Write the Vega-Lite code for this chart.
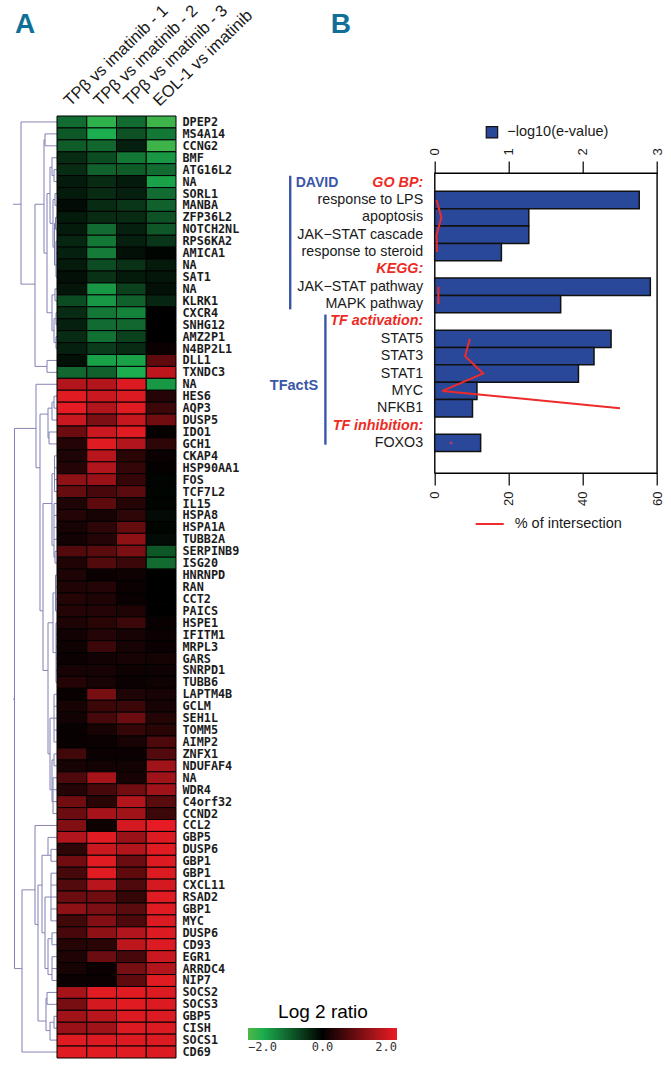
{"$schema":"https://vega.github.io/schema/vega-lite/v6.json","padding":{"left":12,"top":2,"right":0,"bottom":0},"background":"#ffffff","bounds":"flush","spacing":422.7,"config":{"view":{"stroke":null},"font":"Liberation Sans"},
"datasets":{
"h":[{"x":44,"x2":36,"y":6.9},{"x":36,"x2":0,"y":0},{"x":36,"x2":22,"y":13.6},{"x":22,"x2":10,"y":20.5},{"x":10,"x2":0,"y":20},{"x":10,"x2":0,"y":21},{"x":22,"x2":13,"y":6.9},{"x":13,"x2":12,"y":1.5},{"x":12,"x2":0,"y":1},{"x":12,"x2":0,"y":2},{"x":13,"x2":10,"y":11},{"x":10,"x2":7,"y":6},{"x":7,"x2":5,"y":3.8},{"x":5,"x2":0,"y":3},{"x":5,"x2":3,"y":4.5},{"x":3,"x2":0,"y":4},{"x":3,"x2":0,"y":5},{"x":7,"x2":4,"y":8.5},{"x":4,"x2":2,"y":6.5},{"x":2,"x2":0,"y":6},{"x":2,"x2":0,"y":7},{"x":4,"x2":2.5,"y":10.5},{"x":2.5,"x2":1.5,"y":8.5},{"x":1.5,"x2":0,"y":8},{"x":1.5,"x2":0,"y":9},{"x":2.5,"x2":1,"y":12},{"x":1,"x2":0,"y":10},{"x":1,"x2":0,"y":11},{"x":1,"x2":0,"y":12},{"x":1,"x2":0,"y":13},{"x":10,"x2":5,"y":16},{"x":5,"x2":2,"y":14.5},{"x":2,"x2":0,"y":14},{"x":2,"x2":0,"y":15},{"x":5,"x2":3,"y":17.5},{"x":3,"x2":1,"y":16.5},{"x":1,"x2":0,"y":16},{"x":1,"x2":0,"y":17},{"x":3,"x2":1,"y":18.5},{"x":1,"x2":0,"y":18},{"x":1,"x2":0,"y":19},
{"x":44,"x2":42.5,"y":48.4},{"x":42.5,"x2":21,"y":25.7},{"x":21,"x2":0,"y":22},{"x":21,"x2":17,"y":29},{"x":17,"x2":9,"y":24.5},{"x":9,"x2":5,"y":24},{"x":5,"x2":3,"y":23.5},{"x":3,"x2":0,"y":23},{"x":3,"x2":0,"y":24},{"x":5,"x2":0,"y":25},{"x":9,"x2":8,"y":26.5},{"x":8,"x2":0,"y":26},{"x":8,"x2":0,"y":27},{"x":17,"x2":14,"y":41},{"x":14,"x2":5,"y":32},{"x":5,"x2":2.5,"y":29.5},{"x":2.5,"x2":0,"y":28},{"x":2.5,"x2":0,"y":29},{"x":2.5,"x2":0,"y":30},{"x":2.5,"x2":0,"y":31},{"x":5,"x2":3,"y":35.5},{"x":3,"x2":0,"y":32},{"x":3,"x2":0,"y":33},{"x":3,"x2":0,"y":34},{"x":3,"x2":0,"y":35},{"x":3,"x2":2,"y":36.5},{"x":2,"x2":0,"y":36},{"x":2,"x2":0,"y":37},{"x":14,"x2":9,"y":46},{"x":9,"x2":4,"y":42},{"x":4,"x2":1.5,"y":39.5},{"x":1.5,"x2":0,"y":38},{"x":1.5,"x2":0,"y":39},{"x":1.5,"x2":0,"y":40},{"x":1.5,"x2":0,"y":41},{"x":4,"x2":1,"y":44.5},{"x":1,"x2":0,"y":42},{"x":1,"x2":0,"y":43},{"x":1,"x2":0,"y":44},{"x":1,"x2":0,"y":45},{"x":1,"x2":0,"y":46},{"x":1,"x2":0,"y":47},{"x":9,"x2":7,"y":53},{"x":7,"x2":3,"y":50},{"x":3,"x2":0,"y":48},{"x":3,"x2":0,"y":49},{"x":3,"x2":0,"y":50},{"x":3,"x2":0,"y":51},{"x":3,"x2":0,"y":52},{"x":7,"x2":5,"y":56},{"x":5,"x2":3,"y":53.5},{"x":3,"x2":0,"y":53},{"x":3,"x2":0,"y":54},{"x":5,"x2":4,"y":57},{"x":4,"x2":0,"y":55},{"x":4,"x2":0,"y":56},{"x":4,"x2":0,"y":57},{"x":4,"x2":0,"y":58},
{"x":42.5,"x2":35,"y":71},{"x":35,"x2":0,"y":78},{"x":35,"x2":22,"y":64.4},{"x":22,"x2":0,"y":59},{"x":22,"x2":19,"y":67.3},{"x":19,"x2":15,"y":64},{"x":15,"x2":9,"y":61.5},{"x":9,"x2":0,"y":60},{"x":9,"x2":6,"y":61.5},{"x":6,"x2":0,"y":61},{"x":6,"x2":0,"y":62},{"x":15,"x2":12,"y":68},{"x":12,"x2":6,"y":65},{"x":6,"x2":0,"y":63},{"x":6,"x2":0,"y":64},{"x":6,"x2":0,"y":65},{"x":6,"x2":0,"y":66},{"x":6,"x2":0,"y":67},{"x":12,"x2":9,"y":71},{"x":9,"x2":5,"y":68.5},{"x":5,"x2":0,"y":68},{"x":5,"x2":0,"y":69},{"x":9,"x2":5,"y":71.5},{"x":5,"x2":0,"y":70},{"x":5,"x2":0,"y":71},{"x":5,"x2":0,"y":72},{"x":19,"x2":11,"y":75.4},{"x":11,"x2":10,"y":73.5},{"x":10,"x2":0,"y":73},{"x":10,"x2":0,"y":74},{"x":11,"x2":7,"y":76.2},{"x":7,"x2":3,"y":75.5},{"x":3,"x2":0,"y":75},{"x":3,"x2":0,"y":76},{"x":7,"x2":0,"y":77}],
"v":[{"x":36,"y":0,"y2":13.6},{"x":22,"y":6.9,"y2":20.5},{"x":10,"y":20,"y2":21},{"x":13,"y":1.5,"y2":11},{"x":12,"y":1,"y2":2},{"x":10,"y":6,"y2":16},{"x":7,"y":3.8,"y2":8.5},{"x":5,"y":3,"y2":4.5},{"x":3,"y":4,"y2":5},{"x":4,"y":6.5,"y2":10.5},{"x":2,"y":6,"y2":7},{"x":2.5,"y":8.5,"y2":12},{"x":1.5,"y":8,"y2":9},{"x":1,"y":10,"y2":13},{"x":5,"y":14.5,"y2":17.5},{"x":2,"y":14,"y2":15},{"x":3,"y":16.5,"y2":18.5},{"x":1,"y":16,"y2":17},{"x":1,"y":18,"y2":19},
{"x":42.5,"y":25.7,"y2":71},{"x":21,"y":22,"y2":29},{"x":17,"y":24.5,"y2":41},{"x":9,"y":24,"y2":26.5},{"x":5,"y":23.5,"y2":25},{"x":3,"y":23,"y2":24},{"x":8,"y":26,"y2":27},{"x":14,"y":32,"y2":46},{"x":5,"y":29.5,"y2":35.5},{"x":2.5,"y":28,"y2":31},{"x":3,"y":32,"y2":36.5},{"x":2,"y":36,"y2":37},{"x":9,"y":42,"y2":53},{"x":4,"y":39.5,"y2":44.5},{"x":1.5,"y":38,"y2":41},{"x":1,"y":42,"y2":47},{"x":7,"y":50,"y2":56},{"x":3,"y":48,"y2":52},{"x":5,"y":53.5,"y2":57},{"x":3,"y":53,"y2":54},{"x":4,"y":55,"y2":58},
{"x":35,"y":64.4,"y2":78},{"x":22,"y":59,"y2":67.3},{"x":19,"y":64,"y2":75.4},{"x":15,"y":61.5,"y2":68},{"x":9,"y":60,"y2":61.5},{"x":6,"y":61,"y2":62},{"x":12,"y":65,"y2":71},{"x":6,"y":63,"y2":67},{"x":9,"y":68.5,"y2":71.5},{"x":5,"y":68,"y2":69},{"x":5,"y":70,"y2":72},{"x":11,"y":73.5,"y2":76.2},{"x":10,"y":73,"y2":74},{"x":7,"y":75.5,"y2":77},{"x":3,"y":75,"y2":76}]
},
"hconcat":[
{"bounds":"flush","spacing":0,"hconcat":[
{"width":45,"height":942,"title":{"text":"A","anchor":"start","dx":3,"offset":77,"fontSize":28,"fontWeight":"bold","font":"Liberation Sans","color":"#0f6f98"},
"layer":[
{"data":{"name":"h"},"mark":{"type":"rule","stroke":"#8a86b4","strokeWidth":1},"encoding":{"x":{"field":"x","type":"quantitative","scale":{"domain":[45,0]},"axis":null},"x2":{"field":"x2"},"y":{"field":"y","type":"quantitative","scale":{"domain":[-0.5,78.5],"reverse":true},"axis":null}}},
{"data":{"name":"v"},"mark":{"type":"rule","stroke":"#7f7fb5","strokeWidth":1},"encoding":{"x":{"field":"x","type":"quantitative","scale":{"domain":[45,0]},"axis":null},"y":{"field":"y","type":"quantitative","scale":{"domain":[-0.5,78.5],"reverse":true},"axis":null},"y2":{"field":"y2"}}}
]},
{"width":119,"height":942,
"data":{"values":[
{"g":"0|DPEP2","s":"T1","v":-1},{"g":"0|DPEP2","s":"T2","v":-1.75},{"g":"0|DPEP2","s":"T3","v":-1},{"g":"0|DPEP2","s":"E","v":-1.85},
{"g":"1|MS4A14","s":"T1","v":-0.8},{"g":"1|MS4A14","s":"T2","v":-1.6},{"g":"1|MS4A14","s":"T3","v":-0.75},{"g":"1|MS4A14","s":"E","v":-1.1},
{"g":"2|CCNG2","s":"T1","v":-0.85},{"g":"2|CCNG2","s":"T2","v":-0.95},{"g":"2|CCNG2","s":"T3","v":-0.3},{"g":"2|CCNG2","s":"E","v":-1.85},
{"g":"3|BMF","s":"T1","v":-0.4},{"g":"3|BMF","s":"T2","v":-0.7},{"g":"3|BMF","s":"T3","v":-1.1},{"g":"3|BMF","s":"E","v":-1.4},
{"g":"4|ATG16L2","s":"T1","v":-0.4},{"g":"4|ATG16L2","s":"T2","v":-0.9},{"g":"4|ATG16L2","s":"T3","v":-0.85},{"g":"4|ATG16L2","s":"E","v":-1},
{"g":"5|NA","s":"T1","v":-0.25},{"g":"5|NA","s":"T2","v":-0.4},{"g":"5|NA","s":"T3","v":-0.25},{"g":"5|NA","s":"E","v":-1.5},
{"g":"6|SORL1","s":"T1","v":-0.25},{"g":"6|SORL1","s":"T2","v":-0.4},{"g":"6|SORL1","s":"T3","v":-0.3},{"g":"6|SORL1","s":"E","v":-1},
{"g":"7|MANBA","s":"T1","v":-0.1},{"g":"7|MANBA","s":"T2","v":-0.4},{"g":"7|MANBA","s":"T3","v":-0.5},{"g":"7|MANBA","s":"E","v":-0.9},
{"g":"8|ZFP36L2","s":"T1","v":-0.25},{"g":"8|ZFP36L2","s":"T2","v":-0.4},{"g":"8|ZFP36L2","s":"T3","v":-0.4},{"g":"8|ZFP36L2","s":"E","v":-0.75},
{"g":"9|NOTCH2NL","s":"T1","v":-0.25},{"g":"9|NOTCH2NL","s":"T2","v":-1},{"g":"9|NOTCH2NL","s":"T3","v":-0.3},{"g":"9|NOTCH2NL","s":"E","v":-0.8},
{"g":"10|RPS6KA2","s":"T1","v":-0.35},{"g":"10|RPS6KA2","s":"T2","v":-1.1},{"g":"10|RPS6KA2","s":"T3","v":-0.3},{"g":"10|RPS6KA2","s":"E","v":-0.5},
{"g":"11|AMICA1","s":"T1","v":-0.3},{"g":"11|AMICA1","s":"T2","v":-1.15},{"g":"11|AMICA1","s":"T3","v":-0.15},{"g":"11|AMICA1","s":"E","v":-0.05},
{"g":"12|NA","s":"T1","v":-0.25},{"g":"12|NA","s":"T2","v":-0.7},{"g":"12|NA","s":"T3","v":-0.45},{"g":"12|NA","s":"E","v":-0.25},
{"g":"13|SAT1","s":"T1","v":-0.15},{"g":"13|SAT1","s":"T2","v":-0.45},{"g":"13|SAT1","s":"T3","v":-0.25},{"g":"13|SAT1","s":"E","v":-0.2},
{"g":"14|NA","s":"T1","v":-0.2},{"g":"14|NA","s":"T2","v":-1.4},{"g":"14|NA","s":"T3","v":-0.6},{"g":"14|NA","s":"E","v":-0.15},
{"g":"15|KLRK1","s":"T1","v":-0.7},{"g":"15|KLRK1","s":"T2","v":-1.4},{"g":"15|KLRK1","s":"T3","v":-0.9},{"g":"15|KLRK1","s":"E","v":-0.35},
{"g":"16|CXCR4","s":"T1","v":-0.4},{"g":"16|CXCR4","s":"T2","v":-1.1},{"g":"16|CXCR4","s":"T3","v":-1.2},{"g":"16|CXCR4","s":"E","v":0},
{"g":"17|SNHG12","s":"T1","v":-0.3},{"g":"17|SNHG12","s":"T2","v":-1},{"g":"17|SNHG12","s":"T3","v":-0.95},{"g":"17|SNHG12","s":"E","v":0},
{"g":"18|AMZ2P1","s":"T1","v":-0.4},{"g":"18|AMZ2P1","s":"T2","v":-1.05},{"g":"18|AMZ2P1","s":"T3","v":-0.6},{"g":"18|AMZ2P1","s":"E","v":0},
{"g":"19|N4BP2L1","s":"T1","v":-0.3},{"g":"19|N4BP2L1","s":"T2","v":-0.55},{"g":"19|N4BP2L1","s":"T3","v":-0.4},{"g":"19|N4BP2L1","s":"E","v":0.1},
{"g":"20|DLL1","s":"T1","v":-0.15},{"g":"20|DLL1","s":"T2","v":-1.5},{"g":"20|DLL1","s":"T3","v":-1.5},{"g":"20|DLL1","s":"E","v":0.8},
{"g":"21|TXNDC3","s":"T1","v":-0.95},{"g":"21|TXNDC3","s":"T2","v":-0.9},{"g":"21|TXNDC3","s":"T3","v":-1.6},{"g":"21|TXNDC3","s":"E","v":1.6},
{"g":"22|NA","s":"T1","v":1.5},{"g":"22|NA","s":"T2","v":1.5},{"g":"22|NA","s":"T3","v":1.85},{"g":"22|NA","s":"E","v":-1.4},
{"g":"23|HES6","s":"T1","v":1.9},{"g":"23|HES6","s":"T2","v":1.7},{"g":"23|HES6","s":"T3","v":1.85},{"g":"23|HES6","s":"E","v":0.3},
{"g":"24|AQP3","s":"T1","v":1.95},{"g":"24|AQP3","s":"T2","v":1.5},{"g":"24|AQP3","s":"T3","v":1.9},{"g":"24|AQP3","s":"E","v":0.5},
{"g":"25|DUSP5","s":"T1","v":1.7},{"g":"25|DUSP5","s":"T2","v":1.05},{"g":"25|DUSP5","s":"T3","v":1.65},{"g":"25|DUSP5","s":"E","v":0.95},
{"g":"26|IDO1","s":"T1","v":0.9},{"g":"26|IDO1","s":"T2","v":1.7},{"g":"26|IDO1","s":"T3","v":1.9},{"g":"26|IDO1","s":"E","v":0.05},
{"g":"27|GCH1","s":"T1","v":0.3},{"g":"27|GCH1","s":"T2","v":1.9},{"g":"27|GCH1","s":"T3","v":1.5},{"g":"27|GCH1","s":"E","v":0.4},
{"g":"28|CKAP4","s":"T1","v":0.25},{"g":"28|CKAP4","s":"T2","v":1.55},{"g":"28|CKAP4","s":"T3","v":0.35},{"g":"28|CKAP4","s":"E","v":0.1},
{"g":"29|HSP90AA1","s":"T1","v":0.3},{"g":"29|HSP90AA1","s":"T2","v":1.5},{"g":"29|HSP90AA1","s":"T3","v":0.45},{"g":"29|HSP90AA1","s":"E","v":0.05},
{"g":"30|FOS","s":"T1","v":1.2},{"g":"30|FOS","s":"T2","v":1.3},{"g":"30|FOS","s":"T3","v":0.45},{"g":"30|FOS","s":"E","v":-0.05},
{"g":"31|TCF7L2","s":"T1","v":0.85},{"g":"31|TCF7L2","s":"T2","v":0.6},{"g":"31|TCF7L2","s":"T3","v":0.75},{"g":"31|TCF7L2","s":"E","v":-0.05},
{"g":"32|IL15","s":"T1","v":0.25},{"g":"32|IL15","s":"T2","v":0.8},{"g":"32|IL15","s":"T3","v":0.3},{"g":"32|IL15","s":"E","v":-0.05},
{"g":"33|HSPA8","s":"T1","v":0.3},{"g":"33|HSPA8","s":"T2","v":0.2},{"g":"33|HSPA8","s":"T3","v":0.4},{"g":"33|HSPA8","s":"E","v":-0.1},
{"g":"34|HSPA1A","s":"T1","v":0.2},{"g":"34|HSPA1A","s":"T2","v":0.4},{"g":"34|HSPA1A","s":"T3","v":0.85},{"g":"34|HSPA1A","s":"E","v":-0.05},
{"g":"35|TUBB2A","s":"T1","v":0.15},{"g":"35|TUBB2A","s":"T2","v":0.3},{"g":"35|TUBB2A","s":"T3","v":1.2},{"g":"35|TUBB2A","s":"E","v":-0.1},
{"g":"36|SERPINB9","s":"T1","v":0.7},{"g":"36|SERPINB9","s":"T2","v":0.75},{"g":"36|SERPINB9","s":"T3","v":1.05},{"g":"36|SERPINB9","s":"E","v":-0.8},
{"g":"37|ISG20","s":"T1","v":0.25},{"g":"37|ISG20","s":"T2","v":0.7},{"g":"37|ISG20","s":"T3","v":0.5},{"g":"37|ISG20","s":"E","v":-1},
{"g":"38|HNRNPD","s":"T1","v":0.25},{"g":"38|HNRNPD","s":"T2","v":0.1},{"g":"38|HNRNPD","s":"T3","v":0.12},{"g":"38|HNRNPD","s":"E","v":0},
{"g":"39|RAN","s":"T1","v":0.25},{"g":"39|RAN","s":"T2","v":0.3},{"g":"39|RAN","s":"T3","v":0.1},{"g":"39|RAN","s":"E","v":0},
{"g":"40|CCT2","s":"T1","v":0.3},{"g":"40|CCT2","s":"T2","v":0.25},{"g":"40|CCT2","s":"T3","v":0.08},{"g":"40|CCT2","s":"E","v":0},
{"g":"41|PAICS","s":"T1","v":0.3},{"g":"41|PAICS","s":"T2","v":0.3},{"g":"41|PAICS","s":"T3","v":0.25},{"g":"41|PAICS","s":"E","v":0},
{"g":"42|HSPE1","s":"T1","v":0.25},{"g":"42|HSPE1","s":"T2","v":0.35},{"g":"42|HSPE1","s":"T3","v":0.5},{"g":"42|HSPE1","s":"E","v":0.08},
{"g":"43|IFITM1","s":"T1","v":0.15},{"g":"43|IFITM1","s":"T2","v":0.3},{"g":"43|IFITM1","s":"T3","v":0.2},{"g":"43|IFITM1","s":"E","v":0.1},
{"g":"44|MRPL3","s":"T1","v":0.12},{"g":"44|MRPL3","s":"T2","v":0.5},{"g":"44|MRPL3","s":"T3","v":0.2},{"g":"44|MRPL3","s":"E","v":0.1},
{"g":"45|GARS","s":"T1","v":0.1},{"g":"45|GARS","s":"T2","v":0.15},{"g":"45|GARS","s":"T3","v":0.2},{"g":"45|GARS","s":"E","v":0.18},
{"g":"46|SNRPD1","s":"T1","v":0.2},{"g":"46|SNRPD1","s":"T2","v":0.2},{"g":"46|SNRPD1","s":"T3","v":0.12},{"g":"46|SNRPD1","s":"E","v":0.12},
{"g":"47|TUBB6","s":"T1","v":0.3},{"g":"47|TUBB6","s":"T2","v":0.2},{"g":"47|TUBB6","s":"T3","v":0.1},{"g":"47|TUBB6","s":"E","v":0.12},
{"g":"48|LAPTM4B","s":"T1","v":0.08},{"g":"48|LAPTM4B","s":"T2","v":1},{"g":"48|LAPTM4B","s":"T3","v":0.25},{"g":"48|LAPTM4B","s":"E","v":0.2},
{"g":"49|GCLM","s":"T1","v":0.2},{"g":"49|GCLM","s":"T2","v":0.5},{"g":"49|GCLM","s":"T3","v":0.5},{"g":"49|GCLM","s":"E","v":0.2},
{"g":"50|SEH1L","s":"T1","v":0.15},{"g":"50|SEH1L","s":"T2","v":0.6},{"g":"50|SEH1L","s":"T3","v":0.9},{"g":"50|SEH1L","s":"E","v":0.3},
{"g":"51|TOMM5","s":"T1","v":0.08},{"g":"51|TOMM5","s":"T2","v":0.2},{"g":"51|TOMM5","s":"T3","v":0.45},{"g":"51|TOMM5","s":"E","v":0.35},
{"g":"52|AIMP2","s":"T1","v":0.08},{"g":"52|AIMP2","s":"T2","v":0.1},{"g":"52|AIMP2","s":"T3","v":0.2},{"g":"52|AIMP2","s":"E","v":0.65},
{"g":"53|ZNFX1","s":"T1","v":0.55},{"g":"53|ZNFX1","s":"T2","v":0.1},{"g":"53|ZNFX1","s":"T3","v":0.1},{"g":"53|ZNFX1","s":"E","v":0.7},
{"g":"54|NDUFAF4","s":"T1","v":0.2},{"g":"54|NDUFAF4","s":"T2","v":0.15},{"g":"54|NDUFAF4","s":"T3","v":0.15},{"g":"54|NDUFAF4","s":"E","v":1.35},
{"g":"55|NA","s":"T1","v":0.65},{"g":"55|NA","s":"T2","v":1.4},{"g":"55|NA","s":"T3","v":0.2},{"g":"55|NA","s":"E","v":1.35},
{"g":"56|WDR4","s":"T1","v":0.3},{"g":"56|WDR4","s":"T2","v":0.6},{"g":"56|WDR4","s":"T3","v":0.95},{"g":"56|WDR4","s":"E","v":1.35},
{"g":"57|C4orf32","s":"T1","v":0.95},{"g":"57|C4orf32","s":"T2","v":0.35},{"g":"57|C4orf32","s":"T3","v":1.5},{"g":"57|C4orf32","s":"E","v":0.75},
{"g":"58|CCND2","s":"T1","v":0.9},{"g":"58|CCND2","s":"T2","v":1.4},{"g":"58|CCND2","s":"T3","v":1.35},{"g":"58|CCND2","s":"E","v":0.5},
{"g":"59|CCL2","s":"T1","v":1.1},{"g":"59|CCL2","s":"T2","v":0.12},{"g":"59|CCL2","s":"T3","v":1.8},{"g":"59|CCL2","s":"E","v":1.95},
{"g":"60|GBP5","s":"T1","v":1.5},{"g":"60|GBP5","s":"T2","v":1.9},{"g":"60|GBP5","s":"T3","v":1.3},{"g":"60|GBP5","s":"E","v":1.85},
{"g":"61|DUSP6","s":"T1","v":0.4},{"g":"61|DUSP6","s":"T2","v":1.7},{"g":"61|DUSP6","s":"T3","v":1.5},{"g":"61|DUSP6","s":"E","v":1.9},
{"g":"62|GBP1","s":"T1","v":0.95},{"g":"62|GBP1","s":"T2","v":1.9},{"g":"62|GBP1","s":"T3","v":0.9},{"g":"62|GBP1","s":"E","v":1.85},
{"g":"63|GBP1","s":"T1","v":0.6},{"g":"63|GBP1","s":"T2","v":1.9},{"g":"63|GBP1","s":"T3","v":0.8},{"g":"63|GBP1","s":"E","v":1.85},
{"g":"64|CXCL11","s":"T1","v":0.7},{"g":"64|CXCL11","s":"T2","v":1.55},{"g":"64|CXCL11","s":"T3","v":0.65},{"g":"64|CXCL11","s":"E","v":1.8},
{"g":"65|RSAD2","s":"T1","v":0.9},{"g":"65|RSAD2","s":"T2","v":0.95},{"g":"65|RSAD2","s":"T3","v":0.45},{"g":"65|RSAD2","s":"E","v":1.9},
{"g":"66|GBP1","s":"T1","v":1.2},{"g":"66|GBP1","s":"T2","v":1.05},{"g":"66|GBP1","s":"T3","v":0.75},{"g":"66|GBP1","s":"E","v":1.9},
{"g":"67|MYC","s":"T1","v":0.55},{"g":"67|MYC","s":"T2","v":1.1},{"g":"67|MYC","s":"T3","v":0.65},{"g":"67|MYC","s":"E","v":1.85},
{"g":"68|DUSP6","s":"T1","v":0.6},{"g":"68|DUSP6","s":"T2","v":1.2},{"g":"68|DUSP6","s":"T3","v":1.5},{"g":"68|DUSP6","s":"E","v":1.85},
{"g":"69|CD93","s":"T1","v":0.3},{"g":"69|CD93","s":"T2","v":0.35},{"g":"69|CD93","s":"T3","v":1.6},{"g":"69|CD93","s":"E","v":1.85},
{"g":"70|EGR1","s":"T1","v":0.25},{"g":"70|EGR1","s":"T2","v":0.9},{"g":"70|EGR1","s":"T3","v":0.6},{"g":"70|EGR1","s":"E","v":1.7},
{"g":"71|ARRDC4","s":"T1","v":0.2},{"g":"71|ARRDC4","s":"T2","v":0.1},{"g":"71|ARRDC4","s":"T3","v":1},{"g":"71|ARRDC4","s":"E","v":1.5},
{"g":"72|NIP7","s":"T1","v":0.1},{"g":"72|NIP7","s":"T2","v":0.1},{"g":"72|NIP7","s":"T3","v":0.8},{"g":"72|NIP7","s":"E","v":1.9},
{"g":"73|SOCS2","s":"T1","v":1.4},{"g":"73|SOCS2","s":"T2","v":1.9},{"g":"73|SOCS2","s":"T3","v":1.9},{"g":"73|SOCS2","s":"E","v":1.85},
{"g":"74|SOCS3","s":"T1","v":1},{"g":"74|SOCS3","s":"T2","v":1.8},{"g":"74|SOCS3","s":"T3","v":1.9},{"g":"74|SOCS3","s":"E","v":1.85},
{"g":"75|GBP5","s":"T1","v":1.35},{"g":"75|GBP5","s":"T2","v":1.55},{"g":"75|GBP5","s":"T3","v":1.85},{"g":"75|GBP5","s":"E","v":1.85},
{"g":"76|CISH","s":"T1","v":1.3},{"g":"76|CISH","s":"T2","v":1.35},{"g":"76|CISH","s":"T3","v":1.85},{"g":"76|CISH","s":"E","v":1.85},
{"g":"77|SOCS1","s":"T1","v":1.9},{"g":"77|SOCS1","s":"T2","v":1.85},{"g":"77|SOCS1","s":"T3","v":1.85},{"g":"77|SOCS1","s":"E","v":1.85},
{"g":"78|CD69","s":"T1","v":1.9},{"g":"78|CD69","s":"T2","v":1.9},{"g":"78|CD69","s":"T3","v":1.9},{"g":"78|CD69","s":"E","v":1.85}
]},
"mark":{"type":"rect","stroke":"#000000","strokeWidth":1},
"encoding":{
"x":{"field":"s","type":"nominal","sort":null,"scale":{"paddingInner":0,"paddingOuter":0},"axis":{"orient":"top","title":null,"domain":false,"ticks":false,"labelAngle":-44,"labelAlign":"left","labelBaseline":"middle","labelFontSize":16.5,"labelFont":"Liberation Sans","labelColor":"#1a1a1a","labelPadding":13,"labelOffset":-5,"labelLimit":200,"labelExpr":"{'T1':'TPβ vs imatinib - 1','T2':'TPβ vs imatinib - 2','T3':'TPβ vs imatinib - 3','E':'EOL-1 vs imatinib'}[datum.value]"}},
"y":{"field":"g","type":"nominal","sort":null,"scale":{"paddingInner":0,"paddingOuter":0},"axis":{"orient":"right","title":null,"domain":false,"ticks":false,"labelPadding":6,"labelFont":"DejaVu Sans Mono","labelFontSize":11.8,"labelFontWeight":"bold","labelColor":"#1c1c1c","labelOverlap":false,"labelExpr":"split(datum.value,'|')[1]"}},
"color":{"field":"v","type":"quantitative","scale":{"domain":[-2,-1.6,0,2],"range":["#50b748","#1cad4e","#000000","#ed1c24"],"interpolate":"rgb"},
"legend":{"orient":"none","legendX":236,"legendY":887,"direction":"horizontal","title":"Log 2 ratio","titleFont":"Liberation Sans","titleFontSize":19,"titleFontWeight":"normal","titleColor":"#000000","titleAnchor":"middle","titlePadding":6,"gradientLength":149,"gradientThickness":12,"values":[-2,0,2],"format":".1f","labelFont":"DejaVu Sans Mono","labelFontSize":12,"labelColor":"#333333"}}
}}
]},
{"bounds":"flush","spacing":0,"vconcat":[
{"width":222.3,"height":57,"title":{"text":"B","anchor":"start","dx":-104,"offset":77,"fontSize":28,"fontWeight":"bold","font":"Liberation Sans","color":"#0f6f98"},"data":{"values":[{}]},"mark":{"type":"rect","opacity":0},"encoding":{}},
{"width":222.3,"height":300,"view":{"stroke":"#000000","strokeWidth":1.4},
"data":{"values":[
{"i":0,"term":"GO BP:","e":null,"p":null},{"i":1,"term":"response to LPS","e":2.76,"p":0.5},{"i":2,"term":"apoptosis","e":1.27,"p":1.8},{"i":3,"term":"JAK−STAT cascade","e":1.27,"p":0.5},{"i":4,"term":"response to steroid","e":0.9,"p":0.6},{"i":5,"term":"KEGG:","e":null,"p":null},{"i":6,"term":"JAK−STAT pathway","e":2.91,"p":1},{"i":7,"term":"MAPK pathway","e":1.7,"p":1},{"i":8,"term":"TF activation:","e":null,"p":null},{"i":9,"term":"STAT5","e":2.38,"p":9.5},{"i":10,"term":"STAT3","e":2.15,"p":8.2},{"i":11,"term":"STAT1","e":1.94,"p":13.1},{"i":12,"term":"MYC","e":0.57,"p":2.1},{"i":13,"term":"NFKB1","e":0.51,"p":50},{"i":14,"term":"TF inhibition:","e":null,"p":null},{"i":15,"term":"FOXO3","e":0.62,"p":4.4}
]},
"encoding":{"y":{"field":"term","type":"nominal","scale":{"domain":["GO BP:","response to LPS","apoptosis","JAK−STAT cascade","response to steroid","KEGG:","JAK−STAT pathway","MAPK pathway","TF activation:","STAT5","STAT3","STAT1","MYC","NFKB1","TF inhibition:","FOXO3"," "],"paddingInner":0,"paddingOuter":0.145,"align":0.2},
"axis":{"title":null,"domain":false,"ticks":false,"labelPadding":12,"labelFontSize":14.3,"labelFont":"Liberation Sans","labelColor":{"expr":"test(/:$/,datum.value)?'#ee2a24':'#1a1a1a'"},"labelFontStyle":{"expr":"test(/:$/,datum.value)?'italic':'normal'"},"labelFontWeight":{"expr":"test(/:$/,datum.value)?'bold':'normal'"},"labelLimit":200,"labelOverlap":false}}},
"layer":[
{"mark":{"type":"bar","stroke":"#111111","strokeWidth":1.5,"width":{"band":0.94},"clip":false},
"encoding":{"x":{"field":"e","type":"quantitative","scale":{"domain":[0,3]},"axis":{"orient":"top","title":null,"values":[0,1,2,3],"grid":false,"tickSize":12,"tickColor":"#000000","tickWidth":1.2,"domainColor":"#000000","labelAngle":-90,"labelFontSize":13,"labelColor":"#1a1a1a","labelPadding":6}},
"fill":{"datum":"−log10(e-value)","scale":{"range":["#2a4899"]},"legend":{"orient":"none","legendX":50,"legendY":-48,"title":null,"symbolType":"square","symbolSize":130,"symbolStrokeColor":"#111111","symbolStrokeWidth":1.2,"labelFontSize":14.5,"labelColor":"#1a1a1a","labelFont":"Liberation Sans","labelOffset":8}}}},
{"mark":{"type":"line","strokeWidth":2},
"encoding":{"x":{"field":"p","type":"quantitative","scale":{"domain":[0,60]},"axis":{"orient":"bottom","title":null,"values":[0,20,40,60],"grid":false,"tickSize":12,"tickColor":"#000000","tickWidth":1.2,"domainColor":"#000000","labelAngle":-90,"labelFontSize":13,"labelColor":"#1a1a1a","labelPadding":6}},"order":{"field":"i"},
"stroke":{"datum":"% of intersection","scale":{"range":["#ee2a2a"]},"legend":{"orient":"none","legendX":40,"legendY":336,"title":null,"symbolType":"stroke","symbolSize":784,"symbolStrokeWidth":2,"labelFontSize":14.5,"labelColor":"#1a1a1a","labelFont":"Liberation Sans","labelOffset":10}}}},
{"transform":[{"filter":"datum.term==='FOXO3'"}],"mark":{"type":"point","shape":"square","filled":true,"size":7,"color":"#ee3a5a"},"encoding":{"x":{"field":"p","type":"quantitative","scale":{"domain":[0,60]},"axis":null}}},
{"data":{"values":[{"label":"DAVID"}]},"mark":{"type":"rule","color":"#3a56a8","strokeWidth":2.4},"encoding":{"x":{"datum":-39,"type":"quantitative","scale":{"domain":[0,60]},"axis":null},"y":{"datum":"GO BP:","bandPosition":0.1},"y2":{"datum":"MAPK pathway","bandPosition":0.8}}},
{"data":{"values":[{"label":"TFactS"}]},"mark":{"type":"rule","color":"#3a56a8","strokeWidth":2.4},"encoding":{"x":{"datum":-29.5,"type":"quantitative","scale":{"domain":[0,60]},"axis":null},"y":{"datum":"TF activation:","bandPosition":0.1},"y2":{"datum":"FOXO3","bandPosition":0.6}}},
{"data":{"values":[{"label":"DAVID"}]},"mark":{"type":"text","color":"#3a56a8","fontWeight":"bold","fontSize":14,"align":"left","clip":false},"encoding":{"text":{"field":"label"},"x":{"datum":-37.5,"type":"quantitative","scale":{"domain":[0,60]},"axis":null},"y":{"datum":"GO BP:"}}},
{"data":{"values":[{"label":"TFactS"}]},"mark":{"type":"text","color":"#3a56a8","fontWeight":"bold","fontSize":14.5,"align":"left","clip":false},"encoding":{"text":{"field":"label"},"x":{"datum":-44.5,"type":"quantitative","scale":{"domain":[0,60]},"axis":null},"y":{"datum":"MYC","bandPosition":0.2}}}
],
"resolve":{"scale":{"x":"independent","fill":"independent","stroke":"independent"}}}
]}
]}
